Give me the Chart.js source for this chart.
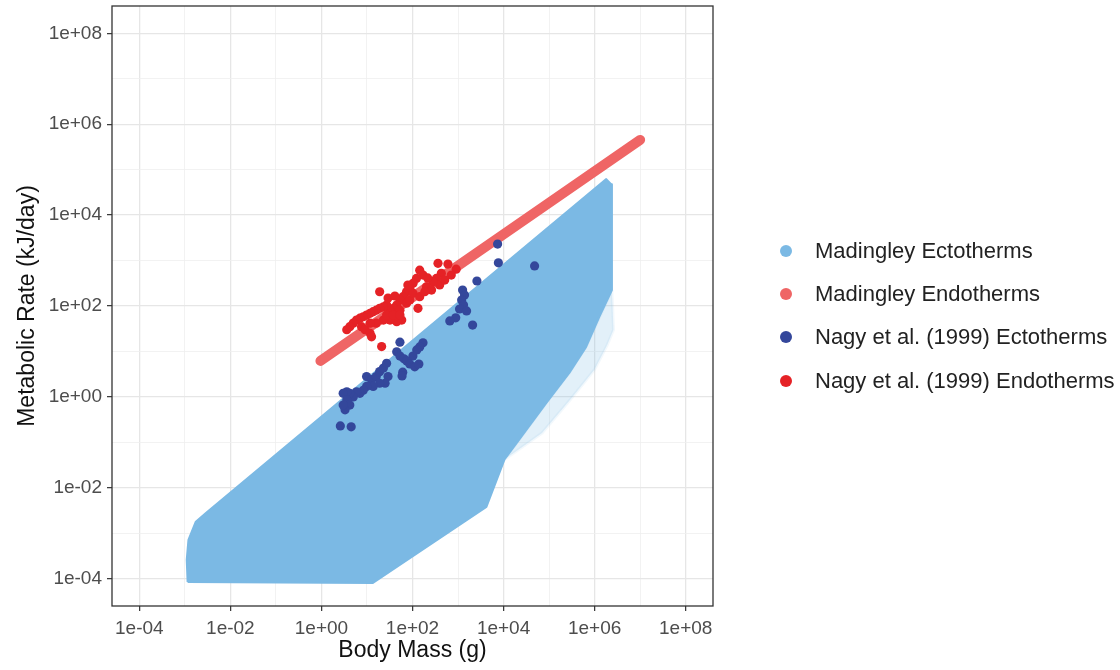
<!DOCTYPE html>
<html>
<head>
<meta charset="utf-8">
<script src="https://cdn.jsdelivr.net/npm/chart.js@4.4.1/dist/chart.umd.min.js"></script>
<style>
  html, body { margin: 0; padding: 0; background: #ffffff; }
  #wrap { position: relative; width: 1120px; height: 670px; }
  #legend { position: absolute; left: 770px; top: 226px; width: 350px; height: 205px;
            font-family: "Liberation Sans", Arial, sans-serif; font-size: 22px; color: #222; }
  .item { position: absolute; left: 0; height: 30px; line-height: 30px; white-space: nowrap; }
  .dot { position: absolute; left: 10px; top: 9px; width: 12px; height: 12px; border-radius: 50%; }
  .lab { position: absolute; left: 45px; top: 0; }
</style>
</head>
<body>
<div id="wrap">
  <canvas id="chart" width="1120" height="670"></canvas>
  <div id="legend"></div>
</div>
<script>
// axis ticks
const majorTicks = [1e-4, 1e-2, 1e0, 1e2, 1e4, 1e6, 1e8];
const majorTickLabels = ["1e-04", "1e-02", "1e+00", "1e+02", "1e+04", "1e+06", "1e+08"];
const minorTicks = [1e-3, 1e-1, 1e1, 1e3, 1e5, 1e7];

const seriesNames = ["Madingley Ectotherms", "Madingley Endotherms", "Nagy et al. (1999) Ectotherms", "Nagy et al. (1999) Endotherms"];
const seriesColors = ["#7bb9e4", "#ef6565", "#34479b", "#e52226"];

// Madingley ectotherms: outline of the dense cloud (mass g, rate kJ/day)
const ectoCloudMass = [0.00115, 0.0011, 0.0012, 0.00174, 0.0029, 1.8e6, 2.3e6, 2.4e6, 1.26e6, 6.5e5, 2.8e5, 8.7e4, 1.05e4, 4.2e3, 13.5, 0.00115];
const ectoCloudRate = [8.5e-5, 2.6e-4, 7.2e-4, 1.8e-3, 2.8e-3, 6.2e4, 4.8e4, 224, 57, 12.6, 3.4, 0.74, 0.042, 0.0038, 8.1e-5, 8.5e-5];
// sparse fringe below the steep edge
const ectoFringeMass = [2.4e6, 2.6e6, 1.9e6, 1.0e6, 3.0e5, 7.0e4, 1.05e4, 8.7e4, 2.8e5, 6.5e5, 2.4e6];
const ectoFringeRate = [224, 30, 14, 4.0, 0.9, 0.16, 0.042, 0.74, 3.4, 12.6, 224];

// Madingley endotherms (thick band)
const endoLineMass = [0.95, 1e7];
const endoLineRate = [6.2, 4.5e5];

// Nagy et al. (1999) ectotherms
const nagyEctoMass = [7400, 7700, 48000, 2600, 1260, 1390, 1200, 1320, 1080, 1540, 890, 660, 2090,
  53, 170, 144, 124, 102, 45, 53, 65, 75, 87, 112, 138, 61, 59,
  9.8, 12.6, 16, 19, 23, 27, 29, 25, 19, 13.7, 9.8, 8.3, 7.0, 5.9, 5.0, 4.2, 3.6, 3.0, 3.6, 4.2, 3.3, 3.0, 2.6, 4.5];
const nagyEctoRate = [2300, 890, 760, 355, 224, 174, 135, 105, 86, 78, 55, 47, 38,
  16, 15.5, 12.6, 10.8, 7.9, 9.8, 7.9, 6.9, 6.2, 5.3, 4.6, 5.3, 3.5, 2.9,
  2.8, 2.4, 2.8, 3.6, 4.3, 5.5, 2.8, 2.0, 2.0, 1.7, 1.7, 1.4, 1.2, 1.3, 1.0, 1.2, 1.3, 1.2, 0.86, 0.66, 0.52, 0.66, 0.23, 0.22];

// Nagy et al. (1999) endotherms
const nagyEndoMass = [363, 600, 910, 710, 430, 335, 395, 283, 203, 262, 144, 170, 122, 103, 87, 74, 62, 53, 45, 38,
  32, 27, 23, 19, 16, 13.7, 11.7, 9.8, 8.3, 7.0, 5.9, 5.0, 4.2, 3.6, 7.6, 9.1, 11.7, 12.6, 19, 21,
  53, 74, 87, 132, 58, 45, 32, 23, 16, 11.7, 27, 38, 53, 103, 144, 186, 29, 41, 79, 215, 510];
const nagyEndoRate = [870, 835, 645, 480, 525, 405, 290, 340, 265, 224, 615, 480, 405, 316, 245, 206, 160, 135, 105, 89,
  81, 105, 96, 89, 81, 75, 69, 63, 58, 54, 49, 42, 35, 30, 35, 30, 25, 21, 206, 12.8,
  81, 115, 135, 89, 49, 45, 49, 49, 42, 42, 63, 63, 63, 190, 160, 206, 150, 166, 290, 415, 372];

function pts(xs, ys) { return xs.map((x, i) => ({ x: x, y: ys[i] })); }
function isMajor(v) { return majorTicks.some(m => Math.abs(Math.log10(v) - Math.log10(m)) < 1e-6); }
function tickLabel(v) {
  const i = majorTicks.findIndex(m => Math.abs(Math.log10(v) - Math.log10(m)) < 1e-6);
  return i >= 0 ? majorTickLabels[i] : "";
}

const fontFamily = "'Liberation Sans', Arial, Helvetica, sans-serif";

function logAxis(titleText, isX) {
  return {
    type: "logarithmic",
    min: Math.pow(10, -4.6),
    max: Math.pow(10, 8.6),
    afterBuildTicks: scale => {
      scale.ticks = majorTicks.concat(minorTicks).sort((a, b) => a - b).map(v => ({ value: v }));
    },
    afterFit: scale => {
      if (isX) {
        scale.height = 64;
        scale.paddingLeft = 0;
        scale.paddingRight = 0;
      } else {
        scale.width = 112;
        scale.paddingTop = 0;
        scale.paddingBottom = 0;
      }
    },
    ticks: {
      autoSkip: false,
      maxRotation: 0,
      padding: isX ? 6 : 5,
      color: "#4d4d4d",
      font: { family: fontFamily, size: 19 },
      callback: v => tickLabel(v)
    },
    grid: {
      color: c => (c.tick && isMajor(c.tick.value)) ? "#e6e6e6" : "#efefef",
      lineWidth: c => (c.tick && isMajor(c.tick.value)) ? 1.3 : 0.8,
      tickColor: c => (c.tick && isMajor(c.tick.value)) ? "#333333" : "rgba(0,0,0,0)",
      tickLength: 5,
      tickWidth: 1.2
    },
    border: { display: false },
    title: {
      display: true,
      text: titleText,
      color: "#111111",
      font: { family: fontFamily, size: 23 },
      padding: isX ? { top: 0, bottom: 6 } : { top: 14, bottom: 0 }
    }
  };
}

const panelBorder = {
  id: "panelBorder",
  afterDatasetsDraw(chart) {
    const a = chart.chartArea;
    const ctx = chart.ctx;
    ctx.save();
    ctx.strokeStyle = "#333333";
    ctx.lineWidth = 1.3;
    ctx.strokeRect(a.left, a.top, a.right - a.left, a.bottom - a.top);
    ctx.restore();
  }
};

new Chart(document.getElementById("chart"), {
  type: "scatter",
  data: {
    datasets: [
      {
        label: seriesNames[3],
        data: pts(nagyEndoMass, nagyEndoRate),
        backgroundColor: seriesColors[3],
        borderWidth: 0,
        pointRadius: 4.6,
        order: 1
      },
      {
        label: seriesNames[2],
        data: pts(nagyEctoMass, nagyEctoRate),
        backgroundColor: seriesColors[2],
        borderWidth: 0,
        pointRadius: 4.6,
        order: 2
      },
      {
        label: seriesNames[1],
        data: pts(endoLineMass, endoLineRate),
        showLine: true,
        borderColor: seriesColors[1],
        borderWidth: 10,
        borderCapStyle: "round",
        pointRadius: 0,
        order: 3
      },
      {
        label: seriesNames[0],
        data: pts(ectoCloudMass, ectoCloudRate),
        showLine: true,
        fill: "shape",
        backgroundColor: seriesColors[0],
        borderColor: seriesColors[0],
        borderWidth: 2,
        borderJoinStyle: "round",
        tension: 0,
        pointRadius: 0,
        order: 4
      },
      {
        label: "fringe",
        data: pts(ectoFringeMass, ectoFringeRate),
        showLine: true,
        fill: "shape",
        backgroundColor: "rgba(123,185,228,0.22)",
        borderColor: "rgba(123,185,228,0.1)",
        borderWidth: 3,
        pointRadius: 0,
        order: 5
      }
    ]
  },
  options: {
    responsive: false,
    animation: false,
    events: [],
    layout: { padding: { top: 6, right: 407, left: 0, bottom: 0 } },
    plugins: { legend: { display: false }, tooltip: { enabled: false } },
    scales: {
      x: logAxis("Body Mass (g)", true),
      y: logAxis("Metabolic Rate (kJ/day)", false)
    }
  },
  plugins: [panelBorder]
});

// legend
const legendEl = document.getElementById("legend");
const legendTops = [10, 53, 96, 140];
seriesNames.forEach((name, i) => {
  const item = document.createElement("div");
  item.className = "item";
  item.style.top = legendTops[i] + "px";
  item.innerHTML = '<span class="dot" style="background:' + seriesColors[i] + '"></span><span class="lab">' + name + "</span>";
  legendEl.appendChild(item);
});
</script>
</body>
</html>
